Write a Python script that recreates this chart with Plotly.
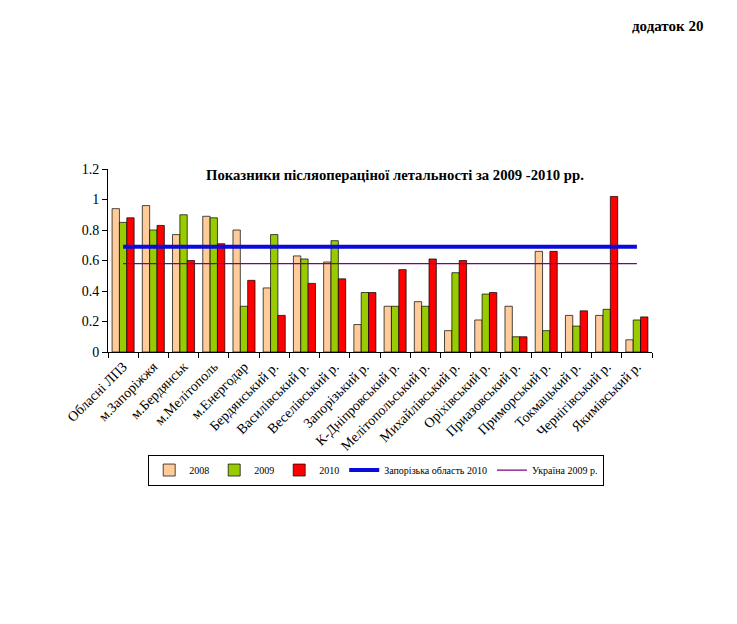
import plotly.graph_objects as go

categories = ["Обласні ЛПЗ", "м.Запоріжжя", "м.Бердянськ", "м.Мелітополь", "м.Енергодар",
              "Бердянський р.", "Василівський р.", "Веселівський р.", "Запорізький р.",
              "К-Дніпровський р.", "Мелітопольський р.", "Михайлівський р.", "Оріхівський р.",
              "Приазовський р.", "Приморський р.", "Токмацький р.", "Чернігівський р.",
              "Якимівський р."]
v2008 = [0.94, 0.96, 0.77, 0.89, 0.80, 0.42, 0.63, 0.59, 0.18, 0.30, 0.33, 0.14, 0.21, 0.30, 0.66, 0.24, 0.24, 0.08]
v2009 = [0.85, 0.80, 0.90, 0.88, 0.30, 0.77, 0.61, 0.73, 0.39, 0.30, 0.30, 0.52, 0.38, 0.10, 0.14, 0.17, 0.28, 0.21]
v2010 = [0.88, 0.83, 0.60, 0.71, 0.47, 0.24, 0.45, 0.48, 0.39, 0.54, 0.61, 0.60, 0.39, 0.10, 0.66, 0.27, 1.02, 0.23]
zap_region_2010 = 0.69
ukraine_2009 = 0.58

font_family = "Times New Roman, Liberation Serif, DejaVu Serif, serif"

fig = go.Figure()
for name, vals, col in [("2008", v2008, "#FFCC99"), ("2009", v2009, "#99CC00"), ("2010", v2010, "#FF0000")]:
    fig.add_trace(go.Bar(x=categories, y=vals, name=name, marker=dict(color=col, line=dict(color="black", width=0.7))))

fig.add_trace(go.Scatter(x=categories, y=[zap_region_2010] * len(categories), mode="lines",
                         name="Запорізька область 2010", line=dict(color="#0A0ADC", width=4)))
fig.add_trace(go.Scatter(x=categories, y=[ukraine_2009] * len(categories), mode="lines",
                         name="Україна 2009 р.", line=dict(color="#800080", width=1.2)))

fig.update_layout(
    width=737, height=624,
    margin=dict(l=100, r=93, t=161, b=280),
    paper_bgcolor="white", plot_bgcolor="white",
    font=dict(family=font_family, color="black", size=12),
    barmode="group", bargap=0.27, bargroupgap=0,
    showlegend=True,
    legend=dict(orientation="h", x=0.493, y=-0.645, xanchor="center", yanchor="middle",
                bordercolor="black", borderwidth=1, font=dict(size=10, family=font_family),
                itemwidth=30, tracegroupgap=0),
    xaxis=dict(type="category", showline=True, linecolor="black", linewidth=1,
               ticks="outside", tickson="boundaries", ticklen=5, tickcolor="black",
               tickangle=-45, tickfont=dict(size=14, family=font_family), showgrid=False),
    yaxis=dict(range=[0, 1.2], dtick=0.2, showline=True, linecolor="black", linewidth=1,
               ticks="outside", ticklen=5, tickcolor="black", showgrid=False, zeroline=False,
               tickfont=dict(size=14, family=font_family)),
    annotations=[
        dict(text="<b>Показники післяопераціної летальності за 2009 -2010 рр.</b>",
             xref="paper", yref="paper", x=0.528, y=0.967, xanchor="center", yanchor="middle",
             showarrow=False, font=dict(size=14.7, family=font_family)),
        dict(text="<b>додаток 20</b>", xref="paper", yref="paper", x=1.097, y=1.781,
             xanchor="right", yanchor="middle", showarrow=False, font=dict(size=15, family=font_family)),
    ],
)

fig.write_html("out.html")
